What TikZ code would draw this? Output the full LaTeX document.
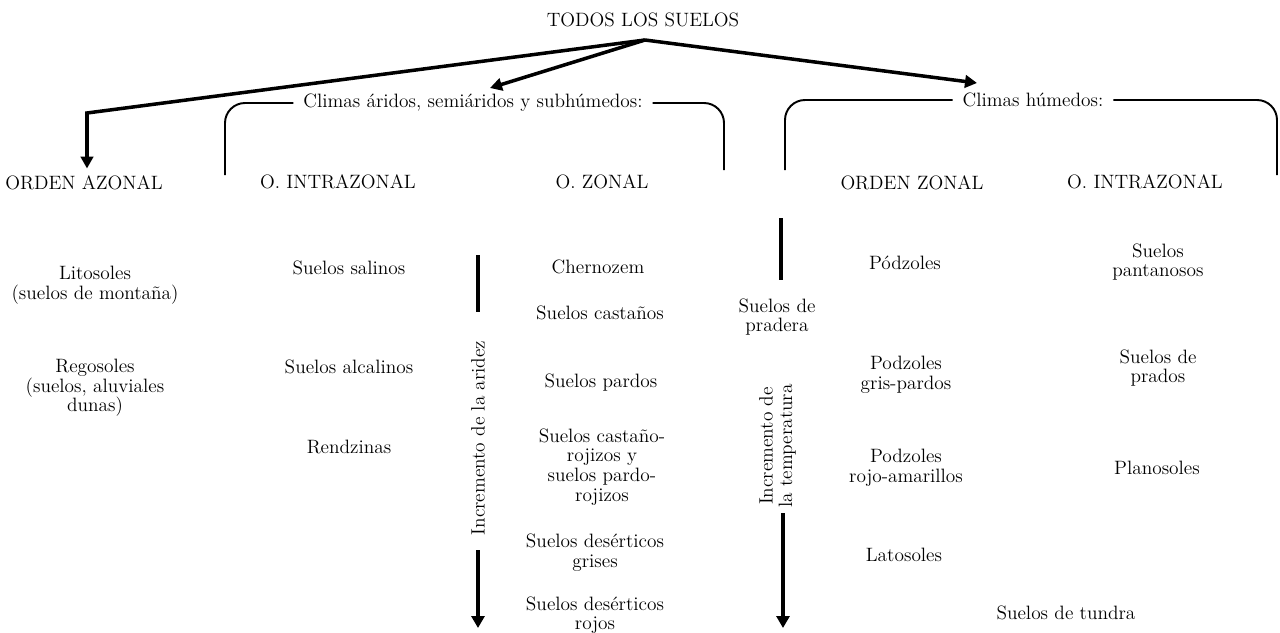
\documentclass[tikz,border=0pt]{standalone}
\usetikzlibrary{arrows.meta, positioning, calc}

\begin{document}
\begin{tikzpicture}[
  % Define styles for different elements
  lbl/.style={align=center, font=\fontsize{11}{11.2}\selectfont, inner sep=1pt},
  head/.style={lbl, inner sep=4pt},
  climas/.style={lbl, inner sep=5.5pt},
  arrow/.style={-{Triangle[length=2.4mm, width=2.5mm]}, line width=2pt},
  bar/.style={line width=2.2pt},
  vbar/.style={-{Triangle[length=2.4mm, width=2.6mm]}, line width=2.2pt},
  bracket/.style={line width=1.1pt, rounded corners=4mm}
]
\useasboundingbox (0,0) rectangle (25.6,-12.64);

% Root
\node[lbl] (todos) at (12.86,-0.40) {TODOS LOS SUELOS};
\coordinate (apex) at (12.9,-0.80);

% Climate groups
\node[climas] (climaA) at (9.46,-2.06) {Climas áridos, semiáridos y subhúmedos:};
\node[climas] (climaB) at (20.66,-2.00) {Climas húmedos:};

\coordinate (brA_left) at (4.50,-3.50);
\coordinate (brA_right) at (14.48,-3.40);
\coordinate (brB_left) at (15.70,-3.40);
\coordinate (brB_right) at (25.54,-3.50);

\draw[bracket] (climaA.west) -| (brA_left);
\draw[bracket] (climaA.east) -| (brA_right);
\draw[bracket] (climaB.west) -| (brB_left);
\draw[bracket] (climaB.east) -| (brB_right);

% Orders
\node[head] (azonal) at (1.68,-3.66) {ORDEN AZONAL};
\node[head] (intraA) at (6.76,-3.64) {O. INTRAZONAL};
\node[head] (zonalA) at (12.04,-3.64) {O. ZONAL};
\node[head] (zonalB) at (18.24,-3.66) {ORDEN ZONAL};
\node[head] (intraB) at (22.90,-3.64) {O. INTRAZONAL};

% Arrows from the root
\coordinate (azbend) at (1.74,-2.26);
\coordinate (tipA) at (9.80,-1.76);
\coordinate (tipB) at (19.54,-1.66);

\draw[arrow] (apex) -- (azbend) -- (azbend |- azonal.north);
\draw[arrow] (apex) -- (tipA);
\draw[arrow] (apex) -- (tipB);

% Azonal column
\node[lbl] (litos) at (1.90,-5.70) {Litosoles\\(suelos de montaña)};
\node[lbl] (regos) at (1.90,-7.76) {Regosoles\\(suelos, aluviales\\dunas)};

% Intrazonal column (arid)
\node[lbl] (salinos) at (6.98,-5.36) {Suelos salinos};
\node[lbl] (alcalinos) at (6.98,-7.34) {Suelos alcalinos};
\node[lbl] (rendz) at (6.98,-8.94) {Rendzinas};

% Zonal column (arid)
\node[lbl] (chern) at (11.96,-5.34) {Chernozem};
\node[lbl] (castanos) at (12.00,-6.26) {Suelos castaños};
\node[lbl] (pardos) at (12.02,-7.66) {Suelos pardos};
\node[lbl] (castrojo) at (12.04,-9.34) {Suelos castaño-\\rojizos y\\suelos pardo-\\rojizos};
\node[lbl] (desgris) at (11.90,-11.06) {Suelos desérticos\\grises};
\node[lbl] (desrojo) at (11.90,-12.30) {Suelos desérticos\\rojos};

% Aridity arrow
\node[lbl, rotate=90, inner sep=4pt] (aridez) at (9.56,-8.76) {Incremento de la aridez};
\coordinate (aridtop) at (9.56,-5.10);
\coordinate (aridbot) at (9.56,-6.24);
\coordinate (aridtip) at (9.56,-12.56);
\draw[bar] (aridtop) -- (aridbot);
\draw[vbar] (aridez.west |- 0,-11.00) -- (aridtip);

% Temperature arrow
\node[lbl] (pradera) at (15.54,-6.34) {Suelos de\\pradera};
\node[lbl, rotate=90, inner sep=4pt] (temp) at (15.55,-8.92) {Incremento de\\la temperatura};
\coordinate (temptop) at (15.62,-4.36);
\coordinate (tempbot) at (15.62,-5.60);
\coordinate (tempstart) at (15.66,-10.26);
\coordinate (temptip) at (15.66,-12.56);
\draw[bar] (temptop) -- (tempbot);
\draw[vbar] (tempstart) -- (temptip);

% Zonal column (humid)
\node[lbl] (podz1) at (18.10,-5.26) {Pódzoles};
\node[lbl] (podz2) at (18.12,-7.50) {Podzoles\\gris-pardos};
\node[lbl] (podz3) at (18.12,-9.36) {Podzoles\\rojo-amarillos};
\node[lbl] (latos) at (18.08,-11.10) {Latosoles};
\node[lbl] (tundra) at (21.32,-12.26) {Suelos de tundra};

% Intrazonal column (humid)
\node[lbl] (pantan) at (23.16,-5.24) {Suelos\\pantanosos};
\node[lbl] (prados) at (23.16,-7.36) {Suelos de\\prados};
\node[lbl] (planos) at (23.14,-9.36) {Planosoles};

\end{tikzpicture}
\end{document}
